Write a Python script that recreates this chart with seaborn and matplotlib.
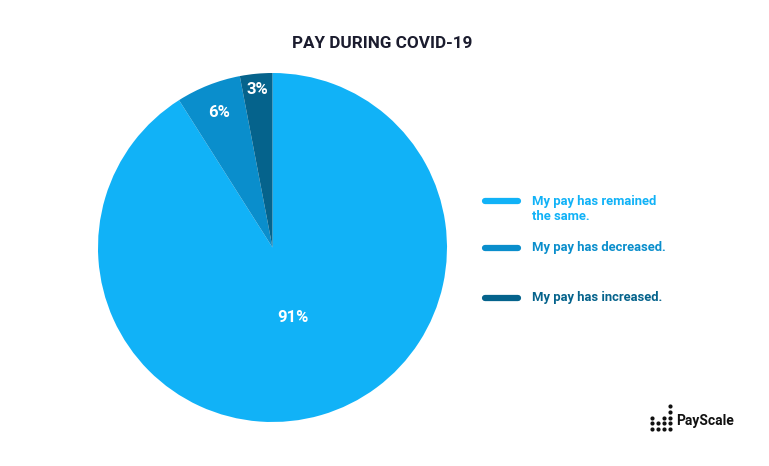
import numpy as np
import matplotlib
matplotlib.use("Agg")
import matplotlib.pyplot as plt
import seaborn as sns
from matplotlib.lines import Line2D

# Data
labels = ["My pay has remained\nthe same.", "My pay has decreased.", "My pay has increased."]
values = [91, 6, 3]
colors = ["#11b2f7", "#0a8ecc", "#05638c"]

# logo bar heights (dots per column)
logo_heights = [3, 2, 3, 5]

sns.set_theme(style="white")
plt.rcParams["font.family"] = ["Roboto", "DejaVu Sans"]

W, H = 769, 466
fig = plt.figure(figsize=(W / 100, H / 100), dpi=100)
fig.patch.set_facecolor("white")

# pie axes: center (272.5, 247.5), radius 174.5 in pixels
cx, cy, r = 272.5, 247.5, 174.5
ax = fig.add_axes([(cx - r) / W, (H - cy - r) / H, 2 * r / W, 2 * r / H])
wedges, _ = ax.pie(values, colors=colors, startangle=90, counterclock=False,
                   radius=1.0, wedgeprops=dict(linewidth=0))
ax.set_xlim(-1, 1)
ax.set_ylim(-1, 1)
ax.set_aspect("equal")
ax.axis("off")

# percent labels at varying radial distance
label_dist = [0.42, 0.83, 0.91]
for w, v, d in zip(wedges, values, label_dist):
    ang = np.deg2rad((w.theta1 + w.theta2) / 2)
    ax.text(d * np.cos(ang), d * np.sin(ang), f"{v}%", color="white",
            fontsize=12, fontweight="bold", ha="center", va="center")

# title
fig.text(382 / W, 1 - 44 / H, "PAY DURING COVID-19", ha="center", va="center",
         fontsize=12.3, fontweight="bold", color="#1b1c2e")

# legend, drawn by hand so the marker sits on the first text line
leg_y = [201, 248, 298]
for lab, col, y in zip(labels, colors, leg_y):
    yf = 1 - y / H
    fig.add_artist(Line2D([485 / W, 518 / W], [yf, yf], color=col, lw=4.5,
                          solid_capstyle="round", transform=fig.transFigure))
    fig.text(532 / W, yf + 6.5 / H, lab, ha="left", va="top", fontsize=9.4,
             fontweight="bold", color=col, linespacing=1.2)

# PayScale logo
lax = fig.add_axes([648 / W, 1 - 432 / H, 26 / W, 30 / H])
xs, ys = [], []
for i, h in enumerate(logo_heights):
    for j in range(h):
        xs.append(i)
        ys.append(j)
lax.scatter(xs, ys, s=9, color="#111111", linewidths=0)
lax.set_xlim(-0.6, 3.6)
lax.set_ylim(-0.6, 4.8)
lax.axis("off")
fig.text(676 / W, 1 - 421 / H, "PayScale", ha="left", va="center",
         fontsize=10, fontweight="bold", color="#111111")

fig.savefig("out.png", dpi=100, facecolor="white")
